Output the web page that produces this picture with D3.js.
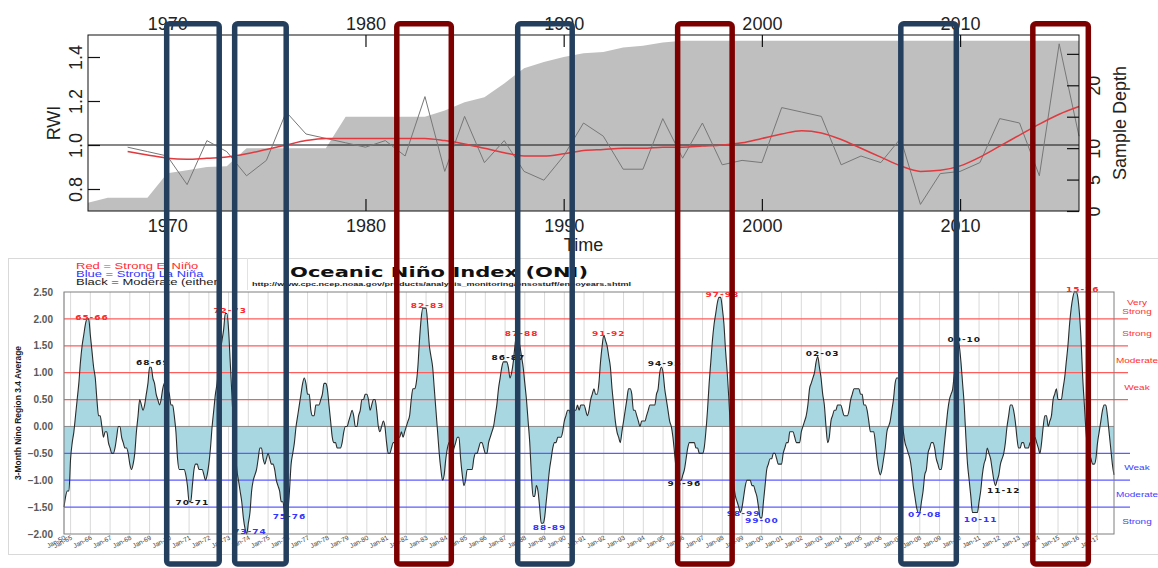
<!DOCTYPE html>
<html>
<head>
<meta charset="utf-8">
<script src="https://cdn.jsdelivr.net/npm/d3@7"></script>
<style>
  body { margin: 0; background: #fff; }
  svg { display: block; }
  text { font-family: "Liberation Sans", Arial, sans-serif; }
</style>
</head>
<body>
<svg id="chart"></svg>
<script>
// ---- top panel: ring width index vs time ----
const depthYears = [1966, 1967, 1968, 1969, 1970, 1971, 1972, 1973, 1974, 1975, 1976, 1977, 1978, 1979,
  1980, 1981, 1982, 1983, 1984, 1985, 1986, 1987, 1988, 1989, 1990, 1991, 1992, 1993, 1994, 1995,
  1996, 1997, 1998, 1999, 2000, 2001, 2002, 2003, 2004, 2005, 2006, 2007, 2008, 2009, 2010, 2011,
  2012, 2013, 2014, 2015, 2016];
const depthValues = [1.3, 2.1, 2.1, 2.1, 6.0, 6.5, 7.0, 7.1, 10, 10, 10, 10, 10, 15,
  15, 15, 15, 15, 16, 17.3, 18.1, 20.3, 22.7, 23.7, 24.5, 25.1, 25.3, 26, 26.3, 26.8,
  27.1, 27.1, 27.1, 27.1, 27.1, 27.1, 27.1, 27.1, 27.1, 27.1, 27.1, 27.1, 27.1, 27.1, 27.1, 27.1,
  27.1, 27.1, 27.1, 27.1, 27.1];

const rwiYears = [1968, 1969, 1970, 1971, 1972, 1973, 1974, 1975, 1976, 1977, 1978, 1979,
  1980, 1981, 1982, 1983, 1984, 1985, 1986, 1987, 1988, 1989, 1990, 1991, 1992, 1993, 1994, 1995,
  1996, 1997, 1998, 1999, 2000, 2001, 2002, 2003, 2004, 2005, 2006, 2007, 2008, 2009, 2010, 2011,
  2012, 2013, 2014, 2015, 2016];
const rwiValues = [0.99, 0.97, 0.95, 0.82, 1.02, 0.97, 0.86, 0.93, 1.15, 1.05, 1.03, 1.01,
  0.99, 1.02, 0.95, 1.22, 0.88, 1.13, 0.92, 1.02, 0.88, 0.84, 0.95, 1.10, 1.04, 0.89, 0.89, 1.12,
  0.94, 1.10, 0.91, 0.93, 0.92, 1.17, 1.15, 1.13, 0.91, 0.95, 0.92, 1.03, 0.73, 0.87, 0.88, 0.92,
  1.12, 1.10, 0.86, 1.46, 1.04];
const splineValues = [0.97, 0.955, 0.94, 0.935, 0.94, 0.945, 0.96, 0.98, 1.0, 1.02, 1.03, 1.03,
  1.03, 1.03, 1.03, 1.03, 1.02, 1.005, 0.985, 0.965, 0.95, 0.95, 0.96, 0.975, 0.98, 0.985, 0.985, 0.99,
  0.99, 0.995, 1.0, 1.01, 1.03, 1.05, 1.065, 1.055, 1.025, 0.985, 0.945, 0.905, 0.88, 0.885, 0.905, 0.945,
  0.995, 1.045, 1.095, 1.14, 1.175];

const rwiTicks = [0.8, 1.0, 1.2, 1.4];
const depthTicks = [0, 5, 10, 15, 20, 25];
const depthLabelled = [0, 5, 10, 20];
const decadeTicks = [1970, 1980, 1990, 2000, 2010];

// ---- bottom panel: Oceanic Nino Index (3-month running mean) ----
const oniHeadLabels = ["Jan-50", "Feb-50", "Mar-50", "Apr-50"];
const oniHeadValues = [-1.5, -1.3, -1.2, -1.2];
const monthNames = ["Jan", "Feb", "Mar", "Apr", "May", "Jun", "Jul", "Aug", "Sep", "Oct", "Nov", "Dec"];
const oniYears = [1965, 1966, 1967, 1968, 1969, 1970, 1971, 1972, 1973, 1974, 1975, 1976, 1977, 1978,
  1979, 1980, 1981, 1982, 1983, 1984, 1985, 1986, 1987, 1988, 1989, 1990, 1991, 1992, 1993, 1994,
  1995, 1996, 1997, 1998, 1999, 2000, 2001, 2002, 2003, 2004, 2005, 2006, 2007, 2008, 2009, 2010,
  2011, 2012, 2013, 2014, 2015, 2016, 2017];
const oniRows = [
  [-0.6, -0.3, -0.1, 0.2, 0.5, 0.8, 1.2, 1.5, 1.7, 1.9, 2.0, 2.0],
  [1.7, 1.4, 1.1, 0.9, 0.5, 0.2, 0.2, 0.0, -0.2, -0.1, -0.1, -0.3],
  [-0.4, -0.5, -0.5, -0.4, -0.2, 0.0, 0.0, -0.2, -0.3, -0.4, -0.4, -0.5],
  [-0.7, -0.8, -0.7, -0.5, -0.1, 0.2, 0.5, 0.4, 0.3, 0.4, 0.6, 0.8],
  [1.1, 1.1, 0.9, 0.8, 0.6, 0.5, 0.4, 0.5, 0.7, 0.8, 0.8, 0.7],
  [0.6, 0.4, 0.4, 0.2, -0.1, -0.6, -0.8, -0.8, -0.8, -0.8, -0.9, -1.1],
  [-1.4, -1.4, -1.1, -0.8, -0.7, -0.7, -0.8, -0.8, -0.8, -0.9, -1.0, -0.9],
  [-0.7, -0.4, 0.0, 0.3, 0.6, 0.8, 1.1, 1.4, 1.6, 1.8, 2.1, 2.1],
  [1.8, 1.2, 0.6, 0.0, -0.4, -0.8, -1.0, -1.2, -1.4, -1.7, -1.9, -2.0],
  [-1.8, -1.6, -1.2, -1.0, -0.9, -0.8, -0.6, -0.4, -0.4, -0.6, -0.7, -0.6],
  [-0.5, -0.6, -0.7, -0.7, -0.8, -1.0, -1.1, -1.2, -1.4, -1.4, -1.6, -1.7],
  [-1.6, -1.2, -0.7, -0.5, -0.3, 0.0, 0.2, 0.4, 0.6, 0.8, 0.9, 0.8],
  [0.6, 0.6, 0.3, 0.2, 0.2, 0.4, 0.4, 0.4, 0.5, 0.6, 0.8, 0.8],
  [0.7, 0.4, 0.1, -0.2, -0.3, -0.3, -0.4, -0.4, -0.4, -0.3, -0.1, 0.0],
  [0.0, 0.1, 0.2, 0.3, 0.2, 0.0, 0.0, 0.2, 0.3, 0.5, 0.5, 0.6],
  [0.6, 0.5, 0.3, 0.4, 0.5, 0.5, 0.3, 0.0, -0.1, 0.0, 0.1, 0.0],
  [-0.3, -0.5, -0.5, -0.4, -0.3, -0.3, -0.3, -0.2, -0.2, -0.1, -0.2, -0.1],
  [0.0, 0.1, 0.2, 0.5, 0.7, 0.7, 0.8, 1.1, 1.6, 2.0, 2.2, 2.2],
  [2.2, 1.9, 1.5, 1.3, 1.1, 0.7, 0.3, -0.1, -0.5, -0.8, -1.0, -0.9],
  [-0.6, -0.4, -0.3, -0.4, -0.5, -0.4, -0.3, -0.2, -0.2, -0.6, -0.9, -1.1],
  [-1.0, -0.8, -0.8, -0.8, -0.8, -0.6, -0.5, -0.5, -0.4, -0.3, -0.3, -0.4],
  [-0.5, -0.5, -0.3, -0.2, -0.1, 0.0, 0.2, 0.4, 0.7, 0.9, 1.1, 1.2],
  [1.2, 1.2, 1.1, 0.9, 1.0, 1.2, 1.5, 1.7, 1.6, 1.5, 1.3, 1.1],
  [0.8, 0.5, 0.1, -0.3, -0.9, -1.3, -1.3, -1.1, -1.2, -1.5, -1.8, -1.8],
  [-1.7, -1.4, -1.1, -0.8, -0.6, -0.4, -0.3, -0.3, -0.2, -0.2, -0.2, -0.1],
  [0.1, 0.2, 0.3, 0.3, 0.2, 0.2, 0.3, 0.3, 0.4, 0.3, 0.4, 0.4],
  [0.4, 0.3, 0.2, 0.3, 0.5, 0.6, 0.7, 0.6, 0.6, 0.8, 1.2, 1.5],
  [1.7, 1.6, 1.5, 1.3, 1.1, 0.7, 0.4, 0.1, -0.1, -0.2, -0.3, -0.1],
  [0.1, 0.3, 0.5, 0.7, 0.7, 0.6, 0.3, 0.3, 0.2, 0.1, 0.0, 0.1],
  [0.1, 0.1, 0.2, 0.3, 0.4, 0.4, 0.4, 0.4, 0.6, 0.7, 1.0, 1.1],
  [1.0, 0.7, 0.5, 0.3, 0.1, 0.0, -0.2, -0.5, -0.8, -1.0, -1.0, -1.0],
  [-0.9, -0.8, -0.6, -0.4, -0.3, -0.3, -0.3, -0.3, -0.4, -0.4, -0.5, -0.5],
  [-0.5, -0.4, -0.1, 0.3, 0.8, 1.2, 1.6, 1.9, 2.1, 2.3, 2.4, 2.4],
  [2.2, 1.9, 1.4, 1.0, 0.5, -0.1, -0.8, -1.1, -1.3, -1.4, -1.5, -1.6],
  [-1.5, -1.3, -1.1, -1.0, -1.0, -1.0, -1.1, -1.1, -1.2, -1.3, -1.5, -1.7],
  [-1.7, -1.4, -1.1, -0.8, -0.7, -0.6, -0.6, -0.5, -0.5, -0.6, -0.7, -0.7],
  [-0.7, -0.5, -0.4, -0.3, -0.3, -0.1, -0.1, -0.1, -0.2, -0.3, -0.3, -0.3],
  [-0.1, 0.0, 0.1, 0.2, 0.4, 0.7, 0.8, 0.9, 1.0, 1.2, 1.3, 1.1],
  [0.9, 0.6, 0.4, 0.0, -0.3, -0.2, 0.1, 0.2, 0.3, 0.3, 0.4, 0.4],
  [0.4, 0.3, 0.2, 0.2, 0.2, 0.3, 0.5, 0.6, 0.7, 0.7, 0.7, 0.7],
  [0.6, 0.6, 0.4, 0.4, 0.3, 0.1, -0.1, -0.1, -0.1, -0.3, -0.6, -0.8],
  [-0.9, -0.8, -0.6, -0.4, -0.1, 0.0, 0.1, 0.3, 0.5, 0.8, 0.9, 0.9],
  [0.7, 0.2, -0.1, -0.3, -0.4, -0.5, -0.6, -0.8, -1.1, -1.3, -1.5, -1.6],
  [-1.6, -1.4, -1.2, -0.9, -0.8, -0.5, -0.4, -0.3, -0.3, -0.4, -0.6, -0.7],
  [-0.8, -0.8, -0.6, -0.3, 0.0, 0.3, 0.5, 0.6, 0.7, 1.0, 1.4, 1.6],
  [1.5, 1.2, 0.8, 0.4, -0.2, -0.7, -1.0, -1.3, -1.6, -1.6, -1.6, -1.6],
  [-1.4, -1.2, -0.9, -0.7, -0.6, -0.4, -0.5, -0.6, -0.8, -1.0, -1.1, -1.0],
  [-0.9, -0.7, -0.6, -0.5, -0.3, 0.0, 0.2, 0.4, 0.4, 0.3, 0.1, -0.2],
  [-0.4, -0.4, -0.3, -0.3, -0.4, -0.4, -0.4, -0.3, -0.3, -0.2, -0.2, -0.3],
  [-0.4, -0.5, -0.3, 0.0, 0.2, 0.2, 0.0, 0.1, 0.2, 0.5, 0.6, 0.7],
  [0.5, 0.5, 0.5, 0.7, 0.9, 1.2, 1.5, 1.9, 2.2, 2.4, 2.5, 2.5],
  [2.4, 2.1, 1.6, 0.9, 0.4, -0.1, -0.4, -0.5, -0.6, -0.7, -0.7, -0.6],
  [-0.3, -0.1, 0.1, 0.3, 0.4, 0.4, 0.2, -0.1, -0.4, -0.7, -0.9]
];

const oniTicks = [2.5, 2.0, 1.5, 1.0, 0.5, 0.0, -0.5, -1.0, -1.5, -2.0];
const ninoThresholds = [0.5, 1.0, 1.5, 2.0];
const ninaThresholds = [-0.5, -1.0, -1.5];
const ninoBandNames = ["Weak", "Moderate", "Strong", "Very|Strong"];
const ninoBandMids = [0.75, 1.25, 1.75, 2.24];
const ninaBandNames = ["Weak", "Moderate", "Strong"];
const ninaBandMids = [-0.75, -1.25, -1.75];

const peakNames = ["65-66", "68-69", "70-71", "72-73", "73-74", "75-76", "82-83", "86-87", "87-88", "88-89", "91-92",
  "94-95", "95-96", "97-98", "98-99", "99-00", "02-03", "07-08", "09-10", "10-11", "11-12", "15-16"];
const peakMonths = ["Feb-66", "Mar-69", "Mar-71", "Feb-73", "Feb-74", "Feb-76", "Feb-83", "Mar-87", "Nov-87", "Apr-89", "Apr-92",
  "Feb-95", "Feb-96", "Jan-98", "Feb-99", "Jan-00", "Feb-03", "Apr-08", "Apr-10", "Feb-11", "Apr-12", "Apr-16"];
const peakLabelValues = [1.98, 1.14, -1.46, 2.11, -2.0, -1.72, 2.20, 1.23, 1.68, -1.93, 1.68,
  1.12, -1.11, 2.41, -1.66, -1.80, 1.31, -1.68, 1.57, -1.78, -1.24, 2.50];
const peakKinds = ["nino", "mod", "mod", "nino", "nina", "nina", "nino", "mod", "nino", "nina", "nino",
  "mod", "mod", "nino", "nina", "nina", "mod", "nina", "mod", "nina", "mod", "nino"];

// highlighted periods drawn over both panels (years on the top axis)
const highlightStarts = [1969.97, 1973.40, 1981.58, 1987.68, 1995.75, 2007.01, 2013.67];
const highlightEnds = [1972.62, 1976.00, 1984.33, 1990.43, 1998.50, 2009.81, 2016.47];
const highlightKinds = ["nina", "nina", "nino", "nina", "nino", "nina", "nino"];

const kindColor = { nino: "#ff2b2b", nina: "#3535ff", mod: "#1a1a1a" };
const boxColor = { nino: "#7c0000", nina: "#243e5e" };

// build the monthly table
const oniCats = oniHeadLabels.slice();
const oniValues = oniHeadValues.slice();
oniYears.forEach((yr, k) => {
  oniRows[k].forEach((v, m) => {
    oniCats.push(monthNames[m] + "-" + String(yr).slice(2));
    oniValues.push(v);
  });
});

const svg = d3.select("#chart").attr("width", 1158).attr("height", 568);
svg.append("rect").attr("width", 1158).attr("height", 568).attr("fill", "#fff");

// ================= top panel =================
const tx = d3.scaleLinear().domain([1966, 2016]).range([88, 1079]);
const ty = d3.scaleLinear().domain([0.7, 1.5]).range([211, 35]);
const tyDepth = d3.scaleLinear().domain([0, 28]).range([211, 35]);

const topG = svg.append("g");

topG.append("path")
  .datum(depthYears.map((y, i) => [y, depthValues[i]]))
  .attr("fill", "#bfbfbf")
  .attr("d", d3.area().x(d => tx(d[0])).y0(tyDepth(0)).y1(d => tyDepth(d[1])));

topG.append("line")
  .attr("x1", tx(1966)).attr("x2", tx(2016))
  .attr("y1", ty(1)).attr("y2", ty(1))
  .attr("stroke", "#111").attr("stroke-width", 1);

topG.append("path")
  .datum(rwiYears.map((y, i) => [y, rwiValues[i]]))
  .attr("fill", "none").attr("stroke", "#777").attr("stroke-width", 1)
  .attr("d", d3.line().x(d => tx(d[0])).y(d => ty(d[1])));

topG.append("path")
  .datum(rwiYears.map((y, i) => [y, splineValues[i]]))
  .attr("fill", "none").attr("stroke", "#e0393e").attr("stroke-width", 1.5)
  .attr("d", d3.line().x(d => tx(d[0])).y(d => ty(d[1])).curve(d3.curveMonotoneX));

topG.append("rect")
  .attr("x", tx(1966)).attr("y", ty(1.5))
  .attr("width", tx(2016) - tx(1966)).attr("height", ty(0.7) - ty(1.5))
  .attr("fill", "none").attr("stroke", "#111").attr("stroke-width", 1);

function styleAxis(g) {
  g.select(".domain").remove();
  g.selectAll(".tick line").attr("stroke", "#111").attr("stroke-width", 1.2);
  g.selectAll("text").attr("fill", "#222").style("font-size", "18px")
    .style("font-family", "'Liberation Sans', Arial, sans-serif");
}

topG.append("g").attr("transform", `translate(0,${ty(1.5)})`)
  .call(d3.axisTop(tx).tickValues(decadeTicks).tickFormat(d3.format("d")).tickSize(-12).tickPadding(5))
  .call(styleAxis);

topG.append("g").attr("transform", `translate(0,${ty(0.7)})`)
  .call(d3.axisBottom(tx).tickValues(decadeTicks).tickFormat(d3.format("d")).tickSize(-12).tickPadding(8))
  .call(styleAxis);

const leftAx = topG.append("g").attr("transform", `translate(${tx(1966)},0)`)
  .call(d3.axisLeft(ty).tickValues(rwiTicks).tickFormat(d3.format(".1f")).tickSize(-12))
  .call(styleAxis);
leftAx.selectAll("text")
  .attr("x", null).attr("dy", null)
  .attr("text-anchor", "middle")
  .attr("transform", "translate(-6,0) rotate(-90)");

const rightAx = topG.append("g").attr("transform", `translate(${tx(2016)},0)`)
  .call(d3.axisRight(tyDepth).tickValues(depthTicks)
    .tickFormat(d => depthLabelled.includes(d) ? d : "").tickSize(-12))
  .call(styleAxis);
rightAx.selectAll("text")
  .attr("x", null).attr("dy", null)
  .attr("text-anchor", "middle")
  .attr("transform", "translate(21,0) rotate(-90)");

topG.append("text")
  .attr("transform", `translate(60,${ty(1.1)}) rotate(-90)`)
  .attr("text-anchor", "middle").attr("fill", "#222").style("font-size", "18px")
  .text("RWI");

topG.append("text")
  .attr("transform", `translate(1126,${ty(1.1)}) rotate(-90)`)
  .attr("text-anchor", "middle").attr("fill", "#222").style("font-size", "18px")
  .text("Sample Depth");

topG.append("text")
  .attr("x", (tx(1966) + tx(2016)) / 2).attr("y", 251)
  .attr("text-anchor", "middle").attr("fill", "#222").style("font-size", "18px")
  .text("Time");

// ================= bottom panel =================
const bx = d3.scaleLinear().domain([0, oniCats.length - 1]).range([64, 1114]);
const by = d3.scaleLinear().domain([-2, 2.5]).range([534, 292]);
const botG = svg.append("g");

// outer frame of the pasted chart
botG.append("rect")
  .attr("x", 8.5).attr("y", 258.5).attr("width", 1170).attr("height", 296)
  .attr("fill", "#fff").attr("stroke", "#d9d9d9");
botG.append("line")
  .attr("x1", 247.5).attr("x2", 247.5).attr("y1", 258).attr("y2", 290)
  .attr("stroke", "#e2e2e2");

const janIdx = oniCats.map((c, i) => c.startsWith("Jan") ? i : -1).filter(i => i >= 0);

botG.append("g").selectAll("line").data(janIdx).join("line")
  .attr("x1", d => bx(d)).attr("x2", d => bx(d))
  .attr("y1", by(2.5)).attr("y2", by(-2))
  .attr("stroke", "#d9d9d9").attr("stroke-width", 1);

botG.append("path")
  .datum(oniValues)
  .attr("fill", "#a8d7e2")
  .attr("d", d3.area().x((d, i) => bx(i)).y0(by(0)).y1(d => by(d)).curve(d3.curveMonotoneX));

botG.append("g").selectAll("line").data(ninoThresholds).join("line")
  .attr("x1", bx(0)).attr("x2", 1128)
  .attr("y1", d => by(d)).attr("y2", d => by(d))
  .attr("stroke", "#ff5c5c").attr("stroke-width", 1.3);

botG.append("g").selectAll("line").data(ninaThresholds).join("line")
  .attr("x1", bx(0)).attr("x2", 1130)
  .attr("y1", d => by(d)).attr("y2", d => by(d))
  .attr("stroke", "#5c5cff").attr("stroke-width", 1.3);

botG.append("line")
  .attr("x1", bx(0)).attr("x2", bx(oniCats.length - 1))
  .attr("y1", by(0)).attr("y2", by(0))
  .attr("stroke", "#8a8a8a").attr("stroke-width", 1);

botG.append("path")
  .datum(oniValues)
  .attr("fill", "none").attr("stroke", "#2b2b2b").attr("stroke-width", 1.1)
  .attr("d", d3.line().x((d, i) => bx(i)).y(d => by(d)).curve(d3.curveMonotoneX));

botG.append("rect")
  .attr("x", bx(0)).attr("y", by(2.5))
  .attr("width", bx(oniCats.length - 1) - bx(0)).attr("height", by(-2) - by(2.5))
  .attr("fill", "none").attr("stroke", "#7f7f7f").attr("stroke-width", 1);

const yAx = botG.append("g").attr("transform", `translate(${bx(0)},0)`)
  .call(d3.axisLeft(by).tickValues(oniTicks).tickFormat(d3.format(".2f")).tickSize(0).tickPadding(11));
yAx.select(".domain").remove();
yAx.selectAll("text").attr("fill", "#595959").style("font-size", "10px").style("font-weight", "bold");

botG.append("g").selectAll("text").data(janIdx).join("text")
  .attr("transform", d => `translate(${bx(d) + 2},539) rotate(-28)`)
  .attr("text-anchor", "end").attr("fill", "#3a3a3a")
  .style("font-size", "6.5px")
  .text(d => oniCats[d]);

botG.append("text")
  .attr("transform", `translate(21,${by(0.25)}) rotate(-90)`)
  .attr("text-anchor", "middle").attr("fill", "#1a1a1a")
  .attr("textLength", 134).attr("lengthAdjust", "spacingAndGlyphs")
  .style("font-size", "9.5px").style("font-weight", "bold")
  .text("3-Month Nino Region 3.4 Average");

// squashed text, like the pasted raster
function flatText(x, y, str, size, color, opts = {}) {
  const t = botG.append("text")
    .attr("transform", `translate(${x},${y}) scale(1,${opts.sy || 0.78})`)
    .attr("text-anchor", opts.anchor || "start")
    .attr("fill", color)
    .style("font-size", size + "px")
    .style("font-weight", opts.weight || "normal")
    .text(str);
  if (opts.family) t.style("font-family", opts.family);
  if (opts.len) t.attr("textLength", opts.len).attr("lengthAdjust", "spacingAndGlyphs");
  if (opts.ls) t.style("letter-spacing", opts.ls + "px");
  return t;
}

flatText(76, 269, "Red = Strong  El Ni\u00f1o", 13, "#ff2b2b", { sy: 0.72 });
flatText(76, 277, "Blue = Strong  La Ni\u00f1a", 13, "#3535ff", { sy: 0.72 });
flatText(76, 285, "Black = Moderate  (either)", 13, "#1a1a1a", { sy: 0.72 });

flatText(290, 277, "Oceanic Ni\u00f1o Index (ONI)", 17, "#111",
  { weight: "bold", family: "'DejaVu Sans', sans-serif", len: 298, sy: 0.8 });
flatText(252, 286, "http://www.cpc.ncep.noaa.gov/products/analysis_monitoring/ensostuff/ensoyears.shtml", 7, "#222",
  { weight: "bold", len: 379, sy: 0.85 });

// strength bands at the right
ninoBandNames.forEach((name, i) => {
  const parts = name.split("|");
  parts.forEach((p, j) => {
    flatText(1137, by(ninoBandMids[i]) + 3.5 + (j - (parts.length - 1) / 2) * 8.5, p, 10, "#ff3030",
      { anchor: "middle", sy: 0.8 });
  });
});
ninaBandNames.forEach((name, i) => {
  flatText(1137, by(ninaBandMids[i]) + 3.5, name, 10, "#4040ff", { anchor: "middle", sy: 0.8 });
});

// event labels
peakNames.forEach((name, i) => {
  const idx = oniCats.indexOf(peakMonths[i]);
  flatText(bx(idx), by(peakLabelValues[i]), name, 9, kindColor[peakKinds[i]],
    { anchor: "middle", weight: "bold", family: "'DejaVu Sans', sans-serif", ls: 1, sy: 0.8 });
});

// ================= highlight boxes over both panels =================
svg.append("g").selectAll("rect").data(highlightStarts).join("rect")
  .attr("x", d => tx(d))
  .attr("width", (d, i) => tx(highlightEnds[i]) - tx(d))
  .attr("y", 23.75).attr("height", 564 - 23.75)
  .attr("rx", 3).attr("ry", 3)
  .attr("fill", "none")
  .attr("stroke", (d, i) => boxColor[highlightKinds[i]])
  .attr("stroke-width", 5.5);
</script>
</body>
</html>
